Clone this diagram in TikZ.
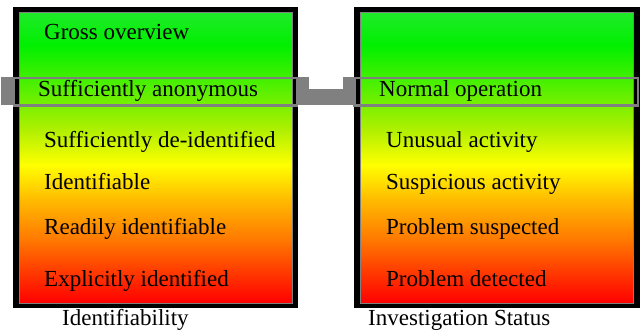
\documentclass[tikz,border=0pt]{standalone}
\usepackage{fontspec}
\setmainfont{Liberation Serif}
\definecolor{tabgray}{RGB}{128,128,128}
\pgfdeclareverticalshading{levels}{100bp}{%
  rgb(0bp)=(1,0,0);
  rgb(25bp)=(1,0,0);
  rgb(30.69bp)=(1,.24,0);
  rgb(35.86bp)=(1,.47,0);
  rgb(42.76bp)=(1,.73,0);
  rgb(48.79bp)=(1,1,0);
  rgb(54.83bp)=(.69,.94,0);
  rgb(61.72bp)=(.35,.94,0);
  rgb(69.48bp)=(0,.94,0);
  rgb(75bp)=(.12,.92,.16);
  rgb(100bp)=(.12,.92,.16)}
\begin{document}
\begin{tikzpicture}[x=1pt,y=-1pt,
  lbl/.style={anchor=base west, inner sep=0pt, font=\fontsize{23}{27}\selectfont},
  tab/.style={fill=tabgray, draw=none, inner sep=0pt, minimum width=12pt, minimum height=28pt},
  band/.style={draw=tabgray, line width=2.5pt, inner sep=0pt, minimum height=27.5pt},
  scalebox/.style={shading=levels, draw=gray, line width=1pt}
]
\useasboundingbox (0,0) rectangle (640,331);
% left scale
\fill[black] (13,7) rectangle (298,308);
\shadedraw[scalebox] (19,13) rectangle (292,303);
% right scale
\fill[black] (354,7) rectangle (640,308);
\shadedraw[scalebox] (360,13) rectangle (633,303);
% tabs and link
\node[tab] (tabL1) at (7,91) {};
\node[tab] (tabL2) at (303,91) {};
\node[tab] (tabR1) at (349,91) {};
\fill[tabgray] (tabL2.east |- 0,89) rectangle (tabR1.south west);
% highlight bands
\node[band, minimum width=283pt] (bandL) at (155.5,91.7) {};
\node[band, minimum width=283.5pt] (bandR) at (496,91.7) {};
% left texts
\node[lbl] (l1) at (44,40) {Gross overview};
\node[lbl] (l2) at (38,97) {Sufficiently anonymous};
\node[lbl] (l3) at (44,148) {Sufficiently de-identified};
\node[lbl] (l4) at (44,190) {Identifiable};
\node[lbl] (l5) at (44,235) {Readily identifiable};
\node[lbl] (l6) at (44,287) {Explicitly identified};
% right texts
\node[lbl] (r2) at (379,97) {Normal operation};
\node[lbl] (r3) at (386,148) {Unusual activity};
\node[lbl] (r4) at (386,190) {Suspicious activity};
\node[lbl] (r5) at (386,235) {Problem suspected};
\node[lbl] (r6) at (386,287) {Problem detected};
% captions
\node[lbl] (capL) at (62,325.5) {Identifiability};
\node[lbl] (capR) at (368,325.5) {Investigation Status};
\end{tikzpicture}
\end{document}
